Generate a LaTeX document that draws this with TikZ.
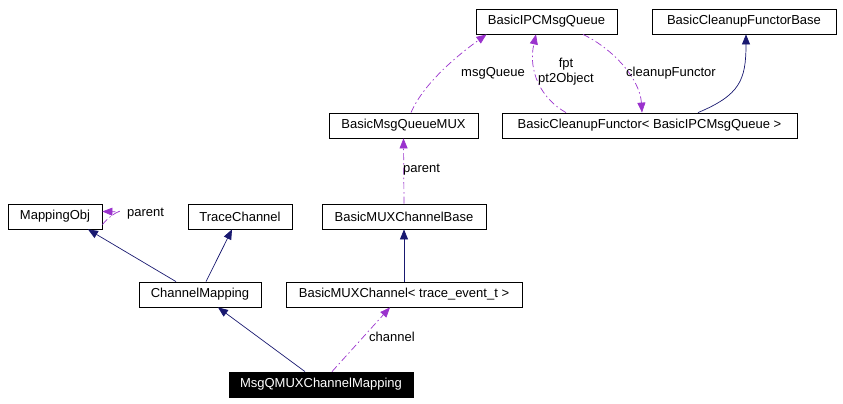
\documentclass[tikz,border=0pt]{standalone}
\usepackage{fontspec}
\setmainfont{Liberation Sans}
\usetikzlibrary{arrows.meta,calc}
\definecolor{inh}{HTML}{191970}
\definecolor{use}{HTML}{9A32CD}
\begin{document}
\begin{tikzpicture}[x=1pt,y=-1pt,
  cls/.style={draw=black,line width=0.8pt,inner sep=0pt,minimum height=25pt,font=\fontsize{13}{15}\selectfont},
  cur/.style={cls,fill=black,text=white},
  inhe/.style={draw=inh,line width=0.7pt,-{Triangle[length=10pt,width=8pt]},inh},
  usee/.style={draw=use,line width=0.7pt,dash pattern=on 7pt off 3pt on 1.5pt off 3pt,-{Triangle[length=10pt,width=8pt]},use},
  lbl/.style={font=\fontsize{13}{15}\selectfont,inner sep=0pt}]
\useasboundingbox (0,0) rectangle (843,404);
\node[cls,minimum width=141pt] (ipc) at (546.5,21.5) {BasicIPCMsgQueue};
\node[cls,minimum width=184pt] (cfb) at (744,21.5) {BasicCleanupFunctorBase};
\node[cls,minimum width=149pt] (mqmux) at (403.5,125.5) {BasicMsgQueueMUX};
\node[cls,minimum width=295pt] (cf) at (649.5,125.5) {BasicCleanupFunctor< BasicIPCMsgQueue >};
\node[cls,minimum width=94pt] (mo) at (55,216.5) {MappingObj};
\node[cls,minimum width=104pt] (tc) at (240,216.5) {TraceChannel};
\node[cls,minimum width=164pt] (mcb) at (404,216.5) {BasicMUXChannelBase};
\node[cls,minimum width=122pt] (cm) at (200,294.5) {ChannelMapping};
\node[cls,minimum width=236pt] (mc) at (404,294.5) {BasicMUXChannel< trace\_event\_t >};
\node[cur,minimum width=184pt] (mq) at (321,384.5) {MsgQMUXChannelMapping};

% inheritance
\draw[inhe] ([xshift=-24pt]cm.north) -- ([xshift=33pt]mo.south);
\draw[inhe] ([xshift=6pt]cm.north) -- ([xshift=-8pt]tc.south);
\draw[inhe] ([xshift=-16pt]mq.north) -- ([xshift=18pt]cm.south);
\draw[inhe] (mc.north) -- (mcb.south);
\draw[inhe] ([xshift=48.5pt]cf.north) .. controls (740,95) and (746,80) .. ([xshift=2pt]cfb.south);

% usage
\draw[usee] ([xshift=11pt]mq.north) -- ([xshift=-14pt]mc.south);
\node[lbl,anchor=west] (lch) at (369,337) {channel};
\draw[usee] (mcb.north) -- (mqmux.south);
\node[lbl,anchor=west] (lpa) at (403,170) {parent};
\draw[usee] ([xshift=7.5pt]mqmux.north) .. controls (425,80) and (465,50) .. ([xshift=-60pt]ipc.south);
\node[lbl] (lmq) at (493,73) {msgQueue};
\draw[usee] ([xshift=-83.5pt]cf.north) .. controls (540,98) and (528,70) .. ([xshift=-10.5pt]ipc.south);
\node[lbl,align=center] (lfpt) at (566,72) {fpt\\pt2Object};
\draw[usee] ([xshift=36.5pt]ipc.south) .. controls (615,50) and (640,80) .. ([xshift=-7.5pt]cf.north);
\node[lbl,anchor=west] (lcf) at (626,73) {cleanupFunctor};
\draw[usee] ([yshift=-8pt]mo.east) .. controls (118,206) and (130,212) .. ([yshift=5pt]mo.east);
\node[lbl,anchor=west] (lmo) at (127,214) {parent};
\end{tikzpicture}
\end{document}
